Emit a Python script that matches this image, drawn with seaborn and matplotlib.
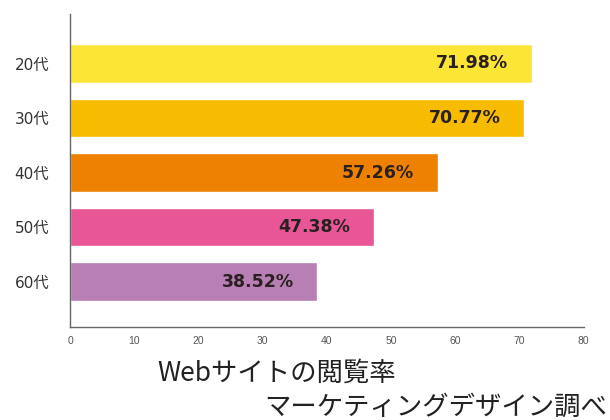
import matplotlib
matplotlib.use("Agg")
import matplotlib.pyplot as plt
import seaborn as sns
import pandas as pd

categories = ["20代", "30代", "40代", "50代", "60代"]
values = [71.98, 70.77, 57.26, 47.38, 38.52]
colors = ["#FCE535", "#F7BB00", "#EE8200", "#E85696", "#B77FB4"]
xticks = [0, 10, 20, 30, 40, 50, 60, 70, 80]
title = "Webサイトの閲覧率"
source = "マーケティングデザイン調べ"

sns.set_theme(style="white")
plt.rcParams['font.family'] = ['Noto Sans CJK JP', 'DejaVu Sans']

df = pd.DataFrame({"cat": categories, "val": values})

fig = plt.figure(figsize=(6.1, 4.2), dpi=100)
ax = fig.add_axes([70 / 610, 1 - 327.3 / 420, 513.7 / 610, (327.3 - 14) / 420])
sns.barplot(data=df, x="val", y="cat", hue="cat", palette=colors, legend=False,
            orient="h", width=0.705, ax=ax, saturation=1)

for i, v in enumerate(values):
    ax.text(v - 3.7, i, f"{v:.2f}%", ha="right", va="center", fontsize=12.5,
            fontweight="bold", color="#2a2020", family=["DejaVu Sans"])

ax.set_xlim(0, 80)
ax.set_ylim(4.84, -0.908)
ax.set_xticks(xticks)
ax.set_xticklabels([str(t) for t in xticks], fontsize=7.5, color="#555555",
                   family=["Liberation Sans", "DejaVu Sans"])
ax.tick_params(axis="x", direction="in", length=4, width=0.8, color="#555555", pad=6)
ax.set_yticks(range(len(categories)))
ax.set_yticklabels(categories, family=["DejaVu Sans", "Noto Sans CJK JP"],
                   fontsize=11, color="#333333")
ax.tick_params(axis="y", length=0, pad=15)
ax.set_xlabel("")
ax.set_ylabel("")
for s in ["top", "right"]:
    ax.spines[s].set_visible(False)
for s in ["left", "bottom"]:
    ax.spines[s].set_color("#666666")
    ax.spines[s].set_linewidth(1.0)

fig.text(157 / 610, 1 - 373 / 420, title, fontsize=19, color="#222222", ha="left", va="center")
fig.text(607 / 610, 1 - 407 / 420, source, fontsize=19, color="#222222", ha="right", va="center")

fig.savefig("out.png", dpi=100)
